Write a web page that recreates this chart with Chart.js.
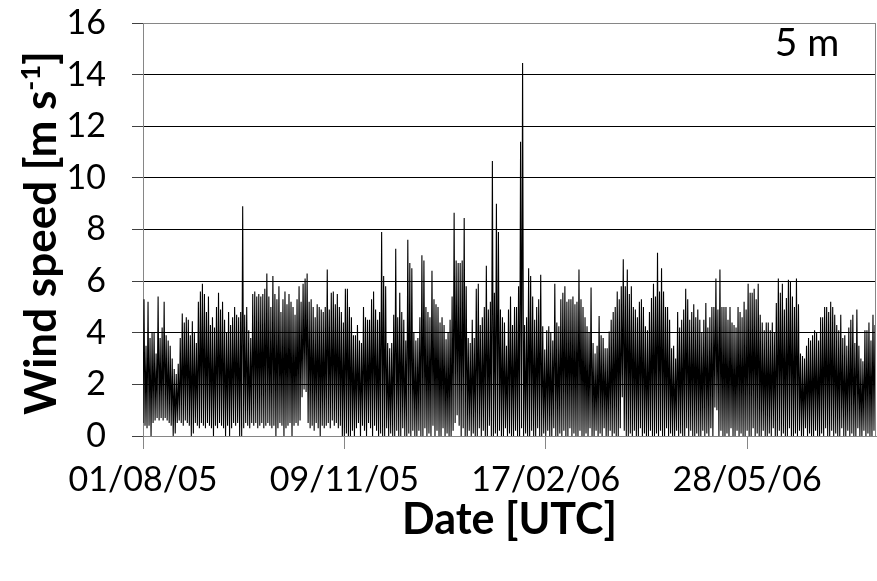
<!DOCTYPE html>
<html>
<head>
<meta charset="utf-8">
<title>Wind speed 5 m</title>
<script src="https://cdn.jsdelivr.net/npm/chart.js@4.4.1/dist/chart.umd.min.js"></script>
<style>
  html, body { margin: 0; padding: 0; background: #fff; }
  canvas { display: block; }
</style>
</head>
<body>
<canvas id="windChart" width="877" height="581"></canvas>
<script>
// x axis is in days since 01/08/05
const tickDays = [0, 100, 200, 300];
const tickLabels = ['01/08/05', '09/11/05', '17/02/06', '28/05/06'];
const yTicks = [0, 2, 4, 6, 8, 10, 12, 14, 16];

// daily maximum wind speed [m/s], one value per day
const dayMax = [
    5.3, 3.5, 5.2, 3.8, 4.0, 4.0, 3.2, 5.4, 3.8, 4.2,
    5.2, 3.9, 3.7, 3.5, 3.0, 2.6, 2.4, 2.8, 3.8, 4.75,
    4.4, 4.6, 4.5, 3.9, 4.45, 4.0, 3.6, 5.2, 5.6, 5.9,
    5.5, 4.8, 5.4, 4.3, 4.6, 4.2, 5.0, 5.55, 4.9, 5.2,
    4.5, 4.0, 4.8, 4.3, 4.6, 5.0, 4.7, 4.6, 4.8, 8.9,
    4.7, 5.0, 4.1, 3.8, 5.5, 5.6, 5.4, 5.5, 5.4, 5.5,
    5.7, 6.3, 5.4, 5.0, 6.2, 5.5, 5.3, 5.8, 4.8, 5.3,
    5.6, 5.1, 5.5, 5.2, 5.0, 4.7, 5.3, 5.8, 5.2, 5.9,
    6.1, 6.3, 5.2, 5.3, 5.0, 4.6, 5.1, 5.0, 4.9, 4.8,
    5.0, 6.45, 4.9, 5.55, 5.6, 5.1, 5.5, 5.0, 4.8, 4.4,
    5.7, 5.7, 5.0, 4.6, 3.9, 3.9, 4.3, 3.7, 3.6, 5.0,
    4.6, 4.5, 4.5, 5.3, 5.6, 4.9, 4.5, 4.8, 7.9, 6.2,
    5.8, 3.6, 3.4, 3.6, 4.7, 7.25, 4.6, 5.55, 4.8, 4.5,
    3.7, 7.6, 6.7, 6.5, 4.0, 3.7, 3.8, 4.6, 7.0, 6.8,
    5.0, 4.8, 4.6, 6.4, 5.3, 5.1, 5.0, 4.4, 4.6, 4.3,
    3.75, 4.0, 4.5, 5.4, 8.65, 6.8, 6.7, 6.7, 6.8, 8.45,
    5.8, 3.8, 3.6, 4.5, 3.8, 5.7, 5.9, 4.3, 4.6, 5.0,
    6.6, 4.9, 5.2, 10.65, 5.55, 9.0, 7.9, 4.9, 4.6, 4.4,
    3.5, 4.9, 5.4, 4.3, 5.0, 5.0, 5.8, 11.4, 14.45, 4.3,
    4.6, 6.5, 6.2, 5.4, 4.5, 5.0, 5.3, 6.25, 4.25, 3.35,
    4.1, 4.25, 4.0, 3.7, 5.9, 4.4, 4.25, 5.3, 5.55, 5.8,
    5.2, 5.3, 5.3, 5.4, 5.1, 5.2, 6.45, 5.3, 5.0, 4.6,
    4.25, 4.0, 5.75, 3.6, 3.2, 3.5, 4.65, 3.9, 3.8, 3.4,
    3.4, 4.05, 4.5, 4.8, 5.0, 5.6, 5.3, 5.8, 6.85, 5.8,
    6.45, 5.5, 5.8, 5.0, 4.9, 4.6, 5.2, 5.3, 5.0, 4.25,
    4.1, 4.8, 5.35, 5.9, 5.4, 7.1, 5.6, 6.5, 5.6, 5.0,
    5.0, 4.5, 3.4, 3.5, 3.0, 4.8, 4.2, 4.5, 4.9, 5.7,
    5.3, 4.5, 4.8, 5.1, 4.6, 4.9, 4.5, 4.0, 4.5, 5.15,
    4.2, 4.6, 5.0, 5.0, 6.1, 4.9, 6.45, 5.0, 5.0, 5.0,
    4.5, 5.0, 4.4, 4.3, 4.2, 5.0, 4.8, 4.6, 5.2, 4.9,
    5.9, 5.55, 5.55, 5.7, 5.3, 5.9, 4.7, 4.4, 4.1, 4.4,
    4.4, 4.1, 4.4, 4.0, 5.15, 6.1, 5.55, 5.9, 4.9, 5.35,
    6.05, 6.0, 5.4, 5.0, 6.1, 5.1, 3.2, 3.1, 3.0, 3.5,
    3.8, 3.7, 3.9, 4.1, 4.0, 3.7, 4.6, 4.6, 5.0, 5.0,
    4.8, 5.2, 5.0, 4.7, 4.3, 4.1, 4.7, 3.8, 3.9, 3.5,
    4.2, 4.5, 4.7, 3.6, 4.9, 3.5, 3.0, 2.9, 4.1, 4.1,
    4.4, 3.7, 4.7, 4.3, 4.6
];

// daily minimum wind speed [m/s]
const dayMin = [
    0.5, 0.4, 0.3, 0.4, 0.0, 0.5, 0.6, 0.7, 0.6, 0.7,
    0.6, 0.7, 0.6, 0.5, 0.4, 0.0, 0.1, 0.5, 0.6, 0.5,
    0.4, 0.6, 0.5, 0.4, 0.0, 0.1, 0.5, 0.4, 0.3, 0.5,
    0.4, 0.3, 0.5, 0.4, 0.3, 0.0, 0.4, 0.3, 0.5, 0.4,
    0.3, 0.0, 0.4, 0.0, 0.3, 0.5, 0.4, 0.5, 0.0, 0.0,
    0.3, 0.5, 0.4, 0.3, 0.5, 0.4, 0.5, 0.3, 0.4, 0.5,
    0.3, 0.4, 0.5, 0.4, 0.3, 0.4, 0.0, 0.3, 0.5, 0.4,
    0.0, 0.3, 0.4, 0.5, 0.0, 0.4, 0.5, 0.4, 0.6, 1.5,
    1.8, 1.7, 0.5, 0.3, 0.4, 0.2, 0.5, 0.3, 0.0, 0.4,
    0.3, 0.4, 0.5, 0.3, 0.6, 0.4, 0.5, 0.3, 0.4, 0.0,
    0.0, 0.1, 0.0, 0.0, 0.2, 0.0, 0.3, 0.5, 0.0, 0.4,
    0.2, 0.0, 0.5, 0.3, 0.0, 0.4, 0.2, 0.0, 0.1, 0.0,
    0.0, 0.3, 0.0, 0.1, 0.0, 0.0, 0.2, 0.0, 0.0, 0.3,
    0.0, 0.0, 0.1, 0.0, 0.2, 0.0, 0.0, 0.2, 0.0, 0.0,
    0.3, 0.0, 0.1, 0.0, 0.4, 0.0, 0.2, 0.0, 0.0, 0.3,
    0.0, 0.1, 0.0, 0.0, 0.2, 0.5, 0.8, 0.4, 0.0, 0.3,
    0.0, 0.0, 0.2, 0.0, 0.1, 0.0, 0.0, 0.3, 0.0, 0.2,
    0.0, 0.0, 0.4, 0.0, 0.0, 0.1, 0.0, 0.2, 0.0, 0.0,
    0.3, 0.0, 0.1, 0.0, 0.0, 0.2, 0.0, 0.0, 0.3, 0.0,
    0.1, 0.0, 0.0, 0.2, 0.0, 0.0, 0.3, 0.0, 0.0, 0.1,
    0.0, 0.2, 0.0, 0.0, 0.3, 0.0, 0.0, 0.1, 0.0, 0.2,
    0.0, 0.0, 0.3, 0.0, 0.1, 0.0, 0.0, 0.2, 0.0, 0.0,
    0.1, 0.0, 0.3, 0.0, 0.0, 0.2, 0.0, 0.1, 0.0, 0.3,
    0.0, 0.0, 0.2, 0.0, 0.1, 0.0, 0.0, 0.3, 1.5, 0.2,
    0.0, 0.0, 0.1, 0.0, 0.2, 0.0, 0.0, 0.3, 0.0, 0.1,
    0.0, 0.0, 0.2, 0.0, 0.0, 0.1, 0.0, 0.2, 0.0, 0.0,
    0.3, 0.0, 0.1, 0.0, 0.0, 0.2, 0.0, 0.1, 0.0, 0.0,
    0.3, 0.0, 0.2, 0.0, 0.0, 0.1, 0.0, 0.0, 0.2, 0.0,
    0.1, 0.0, 0.3, 0.0, 1.1, 1.0, 0.0, 0.2, 0.0, 0.0,
    0.1, 0.0, 0.3, 0.0, 0.0, 0.2, 0.0, 0.1, 0.0, 0.0,
    0.2, 0.0, 0.0, 0.3, 0.0, 0.1, 0.0, 0.0, 0.2, 0.0,
    0.0, 0.1, 0.0, 0.3, 0.0, 0.0, 0.2, 0.0, 0.1, 0.0,
    0.0, 0.3, 0.0, 0.0, 0.1, 0.0, 0.2, 0.0, 0.0, 0.3,
    0.0, 0.1, 0.0, 0.0, 0.2, 0.0, 0.0, 0.1, 0.0, 0.3,
    0.0, 0.0, 0.2, 0.0, 0.1, 0.0, 0.0, 0.3, 0.0, 0.0,
    0.2, 0.0, 0.1, 0.0, 0.0, 0.3, 0.0, 0.0, 0.2, 0.0,
    0.1, 0.0, 0.0, 0.2, 0.0
];

const heightLabel = '5 m';
const FONT = 'Lato, "Open Sans", sans-serif';
const AXIS_GREY = '#868686';

// each day: the night low at the start of the day, the peak half a day later
const series = [];
dayMin.forEach((lo, d) => {
    series.push({ x: d, y: lo });
    series.push({ x: d + 0.5, y: dayMax[d] });
});

// grey frame on the right edge, the "5 m" tag and the rotated y title with its superscript
const decorations = {
    id: 'decorations',
    afterDraw(chart) {
        const { ctx, chartArea } = chart;
        ctx.save();
        ctx.strokeStyle = AXIS_GREY;
        ctx.lineWidth = 1;
        ctx.beginPath();
        ctx.moveTo(chartArea.right - 0.5, chartArea.top);
        ctx.lineTo(chartArea.right - 0.5, chartArea.bottom);
        ctx.stroke();

        ctx.fillStyle = '#000';
        ctx.font = '39px ' + FONT;
        ctx.textAlign = 'center';
        ctx.textBaseline = 'alphabetic';
        ctx.fillText(heightLabel, 807, 56);

        // y title, written bottom to top
        const main = 'Wind speed [m s';
        const sup = '-1';
        const tail = ']';
        const bigFont = 'bold 44px ' + FONT;
        const supFont = 'bold 27px ' + FONT;
        ctx.font = bigFont;
        const wMain = ctx.measureText(main).width;
        const wTail = ctx.measureText(tail).width;
        ctx.font = supFont;
        const wSup = ctx.measureText(sup).width;
        const total = wMain + wSup + wTail;

        ctx.translate(56, 233);
        ctx.rotate(-Math.PI / 2);
        ctx.textAlign = 'left';
        let x = -total / 2;
        ctx.font = bigFont;
        ctx.fillText(main, x, 0);
        x += wMain;
        ctx.font = supFont;
        ctx.fillText(sup, x, -16);
        x += wSup;
        ctx.font = bigFont;
        ctx.fillText(tail, x, 0);
        ctx.restore();
    }
};

const ctx = document.getElementById('windChart').getContext('2d');

new Chart(ctx, {
    type: 'line',
    data: {
        datasets: [{
            data: series,
            borderColor: '#000',
            borderWidth: 1.1,
            pointRadius: 0,
            tension: 0,
            fill: false
        }]
    },
    options: {
        responsive: false,
        animation: false,
        layout: { padding: { top: 23, right: 1, left: 0, bottom: 0 } },
        plugins: {
            legend: { display: false },
            tooltip: { enabled: false }
        },
        scales: {
            x: {
                type: 'linear',
                min: 0,
                max: 364,
                afterBuildTicks: scale => { scale.ticks = tickDays.map(v => ({ value: v })); },
                afterFit: scale => { scale.height = 145; },
                grid: { drawOnChartArea: false, drawTicks: true, tickLength: 13, color: AXIS_GREY },
                border: { color: AXIS_GREY },
                ticks: {
                    autoSkip: false,
                    maxRotation: 0,
                    padding: 11,
                    color: '#000',
                    font: { family: FONT, size: 34 },
                    callback: value => tickLabels[tickDays.indexOf(value)]
                },
                title: {
                    display: true,
                    text: 'Date [UTC]',
                    color: '#000',
                    font: { family: FONT, size: 43, weight: 'bold' },
                    padding: { top: 0, bottom: 35 }
                }
            },
            y: {
                min: 0,
                max: 16,
                afterBuildTicks: scale => { scale.ticks = yTicks.map(v => ({ value: v })); },
                afterFit: scale => {
                    scale.width = 143;
                    // let the layout padding alone decide where the plot top sits
                    scale.paddingTop = 0;
                    scale.paddingBottom = 0;
                },
                grid: {
                    color: c => (c.tick && (c.tick.value === 0 || c.tick.value === 16)) ? AXIS_GREY : '#000',
                    tickColor: '#404040',
                    tickLength: 11
                },
                border: { color: AXIS_GREY },
                ticks: {
                    padding: 26,
                    color: '#000',
                    font: { family: FONT, size: 34 }
                }
            }
        }
    },
    plugins: [decorations]
});
</script>
</body>
</html>
